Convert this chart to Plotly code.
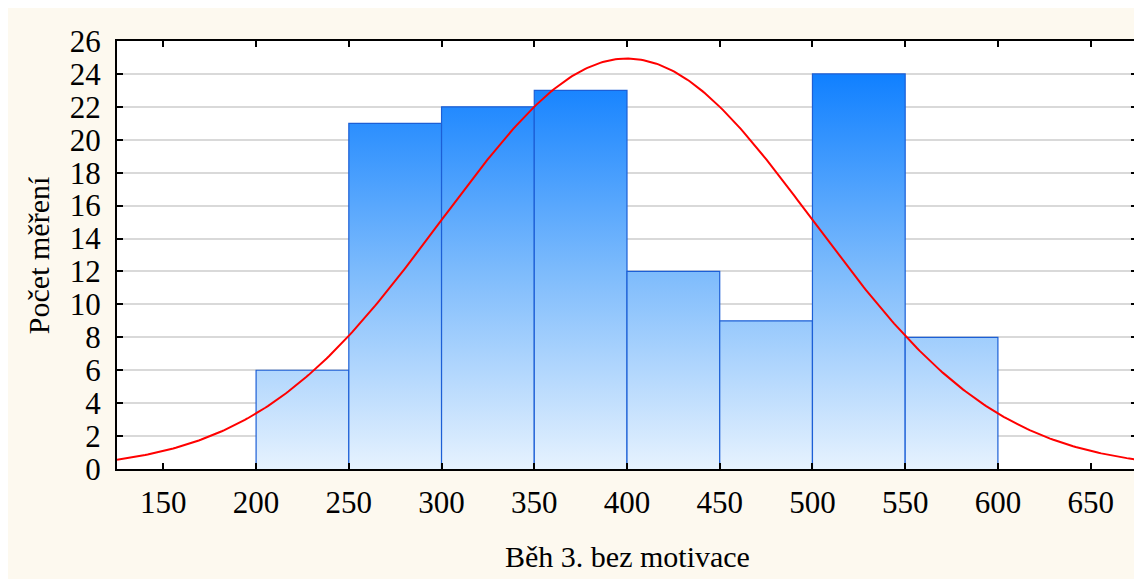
import numpy as np
import plotly.graph_objects as go

# Histogram data
bin_left = [200, 250, 300, 350, 400, 450, 500, 550]
bin_width = 50
counts = [6, 21, 22, 23, 12, 9, 24, 8]

# Fitted normal curve parameters
fit_mean = 400
fit_sd = 100

x_ticks = [150, 200, 250, 300, 350, 400, 450, 500, 550, 600, 650]
y_ticks = list(range(0, 27, 2))

x_title = "Běh 3. bez motivace"
y_title = "Počet měření"

FONT = "Liberation Serif, Times New Roman, serif"

fig = go.Figure()

for left, c in zip(bin_left, counts):
    right = left + bin_width
    fig.add_trace(go.Scatter(
        x=[left, left, right, right],
        y=[0, c, c, 0],
        mode="lines",
        fill="toself",
        line=dict(color="#1C5FD6", width=1.2),
        fillgradient=dict(
            type="vertical",
            colorscale=[[0, "#E6F2FE"], [0.5, "#7DBBFC"], [1, "#1080FF"]],
            start=0, stop=24,
        ),
        hoverinfo="skip",
        showlegend=False,
    ))

n_total = sum(counts)
xc = np.linspace(125, 675, 400)
yc = n_total * bin_width / (fit_sd * np.sqrt(2 * np.pi)) * np.exp(-0.5 * ((xc - fit_mean) / fit_sd) ** 2)
fig.add_trace(go.Scatter(
    x=xc, y=yc, mode="lines",
    line=dict(color="#FF0000", width=2),
    showlegend=False, hoverinfo="skip",
))

fig.add_annotation(text=x_title, xref="paper", yref="paper",
                   x=0.5, y=-0.2056, xanchor="center", yanchor="middle",
                   showarrow=False, font=dict(family=FONT, size=30))
fig.add_annotation(text=y_title, xref="paper", yref="paper",
                   x=-0.0773, y=0.5, xanchor="center", yanchor="middle",
                   textangle=-90, showarrow=False, font=dict(family=FONT, size=30))

fig.update_layout(
    width=1134, height=571,
    margin=dict(l=109, r=3, t=33, b=110),
    paper_bgcolor="#FDF9EF",
    plot_bgcolor="white",
    font=dict(family=FONT, color="black", size=30),
)

fig.update_xaxes(
    range=[125, 675],
    tickmode="array", tickvals=x_ticks,
    ticks="inside", ticklen=6, tickwidth=2, tickcolor="black",
    showline=True, linecolor="black", linewidth=2, mirror="allticks",
    showgrid=False, zeroline=False, layer="above traces",
    tickfont=dict(family=FONT, size=31),
    ticklabelstandoff=5,
)
fig.update_yaxes(
    range=[0, 26],
    tickmode="array", tickvals=y_ticks,
    ticks="inside", ticklen=6, tickwidth=2, tickcolor="black",
    showline=True, linecolor="black", linewidth=2, mirror="allticks",
    showgrid=True, gridcolor="#D9D9D9", gridwidth=2, zeroline=False,
    layer="above traces",
    tickfont=dict(family=FONT, size=31),
    ticklabelstandoff=8,
)

fig.write_html("out.html")
